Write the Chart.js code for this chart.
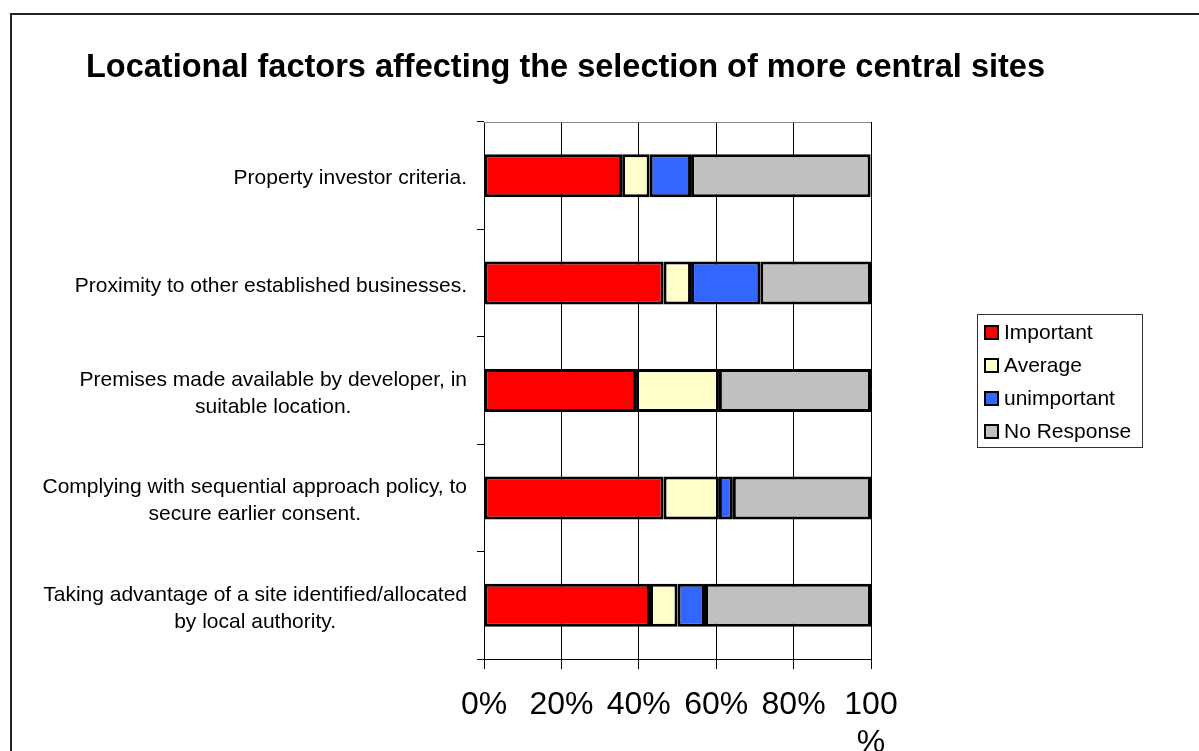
<!DOCTYPE html>
<html>
<head>
<meta charset="utf-8">
<script src="https://cdn.jsdelivr.net/npm/chart.js@4.4.0/dist/chart.umd.min.js"></script>
<style>
  html, body { margin: 0; padding: 0; background: #fff; }
  #wrap { width: 1199px; height: 751px; }
</style>
</head>
<body>
<div id="wrap"><canvas id="chart" width="1199" height="751"></canvas></div>
<script>
// factor labels (split into lines as in the original)
const factors = [
  ["Property investor criteria."],
  ["Proximity to other established businesses."],
  ["Premises made available by developer, in", "suitable location."],
  ["Complying with sequential approach policy, to", "secure earlier consent."],
  ["Taking advantage of a site identified/allocated", "by local authority."]
];

// share of responses, %
const important   = [35.7, 46.4, 39.3, 46.4, 42.9];
const average     = [7.1, 7.1, 21.4, 14.3, 7.1];
const unimportant = [10.7, 17.9, null, 3.6, 7.1];
const noResponse  = [46.4, 28.6, 39.3, 35.7, 42.9];

const xTicks = [0, 20, 40, 60, 80, 100];

const FONT = '"Liberation Sans", Arial, sans-serif';
const title = "Locational factors affecting the selection of more central sites";

const colors = {
  red: "#FF0000",
  yellow: "#FFFFCC",
  blue: "#3366FF",
  grey: "#C0C0C0",
};

function barSet(label, data, color) {
  return {
    label: label,
    data: data,
    backgroundColor: color,
    borderColor: "#000",
    borderWidth: 3,
    borderSkipped: false,
    barPercentage: 0.4,
    categoryPercentage: 1.0,
  };
}

// border, title, wrapped category labels and the legend box
const decorations = {
  id: "decorations",
  afterDraw(chart) {
    const ctx = chart.ctx;
    const area = chart.chartArea;
    ctx.save();

    // outer frame
    ctx.strokeStyle = "#222";
    ctx.lineWidth = 2;
    ctx.strokeRect(11, 14, 1400, 1000);

    // top edge of plot area
    ctx.strokeStyle = "#888";
    ctx.lineWidth = 1;
    ctx.beginPath();
    ctx.moveTo(area.left, area.top + 0.5);
    ctx.lineTo(area.right, area.top + 0.5);
    ctx.stroke();

    // title
    ctx.fillStyle = "#000";
    ctx.font = "bold 32.5px " + FONT;
    ctx.textAlign = "left";
    ctx.textBaseline = "alphabetic";
    ctx.fillText(title, 86, 77);

    // category labels: block right aligned, lines centred within block
    const yScale = chart.scales.y;
    ctx.font = "21px " + FONT;
    ctx.textAlign = "center";
    ctx.textBaseline = "middle";
    factors.forEach((lines, i) => {
      const cy = yScale.getPixelForValue(i) + 3;
      const w = Math.max(...lines.map((l) => ctx.measureText(l).width));
      const cx = 467 - w / 2;
      lines.forEach((l, j) => {
        ctx.fillText(l, cx, cy + (j - (lines.length - 1) / 2) * 27);
      });
    });

    // legend
    ctx.strokeStyle = "#333";
    ctx.lineWidth = 1;
    ctx.strokeRect(977.5, 314.5, 165, 133);
    ctx.textAlign = "left";
    chart.data.datasets.forEach((ds, i) => {
      const cy = 332 + i * 33;
      ctx.fillStyle = ds.backgroundColor;
      ctx.fillRect(985, cy - 6, 13, 13);
      ctx.strokeStyle = "#000";
      ctx.lineWidth = 2;
      ctx.strokeRect(985, cy - 6, 13, 13);
      ctx.fillStyle = "#000";
      ctx.fillText(ds.label, 1004, cy + 1);
    });

    ctx.restore();
  },
};

new Chart(document.getElementById("chart"), {
  type: "bar",
  data: {
    labels: factors.map((l) => l.join(" ")),
    datasets: [
      barSet("Important", important, colors.red),
      barSet("Average", average, colors.yellow),
      barSet("unimportant", unimportant, colors.blue),
      barSet("No Response", noResponse, colors.grey),
    ],
  },
  options: {
    indexAxis: "y",
    responsive: false,
    animation: false,
    layout: {
      padding: { left: 0, top: 122, right: 328, bottom: 0 },
    },
    plugins: {
      legend: { display: false },
      title: { display: false },
      tooltip: { enabled: false },
    },
    scales: {
      x: {
        stacked: true,
        min: 0,
        max: 100,
        afterBuildTicks: (scale) => {
          scale.ticks = xTicks.map((v) => ({ value: v }));
        },
        afterFit: (scale) => {
          scale.height = 92;
        },
        grid: {
          color: "#000",
          lineWidth: 1,
          drawTicks: true,
          tickLength: 10,
          tickColor: "#000",
        },
        border: { display: true, color: "#000", width: 1 },
        ticks: {
          color: "#000",
          padding: 17,
          maxRotation: 0,
          autoSkip: false,
          font: { family: FONT, size: 32 },
          callback: (v) => (v === 100 ? ["100", "%"] : v + "%"),
        },
      },
      y: {
        stacked: true,
        afterFit: (scale) => {
          scale.width = 484;
        },
        grid: {
          offset: true,
          drawOnChartArea: false,
          drawTicks: true,
          tickLength: 7,
          tickColor: "#000",
        },
        border: { display: true, color: "#000", width: 1 },
        ticks: { display: false },
      },
    },
  },
  plugins: [decorations],
});
</script>
</body>
</html>
